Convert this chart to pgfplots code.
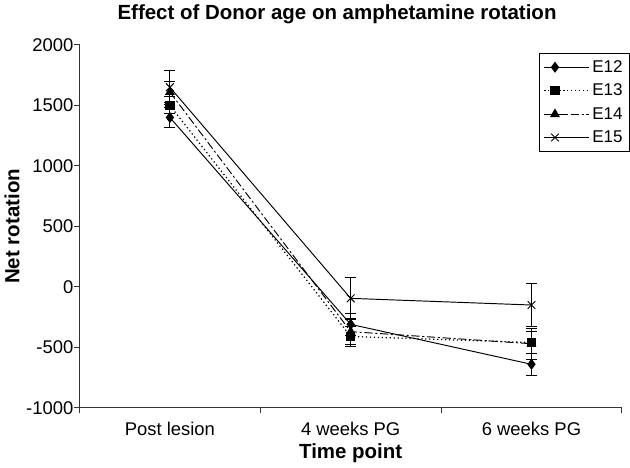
\documentclass[border=0pt]{standalone}
\usepackage{pgfplots}
\pgfplotsset{compat=1.18}
\usepackage{fontspec}
\setmainfont{Liberation Sans}
\begin{document}
\begin{tikzpicture}
\begin{axis}[
  scale only axis, width=397.5pt, height=266pt,
  xmin=-0.5, xmax=2.5, ymin=-1000, ymax=2000,
  ytick={-1000,-500,0,500,1000,1500,2000},
  xtick={0,1,2}, xticklabels={Post lesion,4 weeks PG,6 weeks PG},
  major x tick style={draw=none},
  minor xtick={-0.5,0.5,1.5,2.5},
  tick align=outside, tick pos=left,
  major tick length=4pt, minor tick length=4pt,
  axis lines*=left, axis line style={black!80, line width=0.8pt},
  every tick/.style={black!80, line width=0.8pt},
  /pgf/number format/assume math mode=true,
  /pgf/number format/.cd, set thousands separator={}, /pgfplots/.cd,
  tick label style={font=\fontsize{13.5}{15}\selectfont},
  yticklabel style={xshift=3pt},
  xticklabel style={yshift=-3pt},
  xlabel={\textbf{Time point}}, ylabel={\textbf{Net rotation}},
  label style={font=\fontsize{15}{17}\selectfont},
  xlabel style={yshift=1pt},
  ylabel style={yshift=-2pt},
  title={\textbf{Effect of Donor age on amphetamine rotation}},
  title style={font=\fontsize{15}{17}\selectfont, yshift=6pt, xshift=-10pt},
  legend style={at={(rel axis cs:1.015,0.978)}, anchor=north east, draw=black, line width=0.8pt,
    font=\fontsize{12.5}{14}\selectfont, row sep=3pt, inner sep=3pt},
  legend cell align=left,
  legend image code/.code={\draw[#1] (0cm,0cm) -- (0.55cm,0cm) plot coordinates {(0.275cm,0cm)} -- (1.15cm,0cm);},
  error bars/error bar style={solid, line width=0.7pt, black},
  error bars/error mark options={rotate=90, mark size=4pt, line width=0.7pt, black},
]
\addplot[black, line width=0.7pt, solid, mark=diamond*, mark size=3.5pt, mark options={solid, fill=black},
  error bars/.cd, y dir=both, y explicit]
  coordinates {(0,1400) +- (0,80) (1,-310) +- (0,90) (2,-640) +- (0,90)};
\addlegendentry{E12}
\addplot[black, dotted, line width=0.9pt, mark=square*, mark size=3pt, mark options={solid, fill=black},
  error bars/.cd, y dir=both, y explicit]
  coordinates {(0,1500) +- (0,70) (1,-410) +- (0,80) (2,-460) +- (0,90)};
\addlegendentry{E13}
\addplot[black, line width=0.7pt, dash pattern=on 6pt off 2pt on 1.5pt off 2pt, mark=triangle*, mark size=3.5pt, mark options={solid, fill=black},
  error bars/.cd, y dir=both, y explicit]
  coordinates {(0,1610) +- (0,90) (1,-370) +- (0,110) (2,-470) +- (0,130)};
\addlegendentry{E14}
\addplot[black, line width=0.7pt, solid, mark=x, mark size=4pt, mark options={solid},
  error bars/.cd, y dir=both, y explicit]
  coordinates {(0,1650) +- (0,140) (1,-95) +- (0,175) (2,-150) +- (0,175)};
\addlegendentry{E15}
\end{axis}
\end{tikzpicture}
\end{document}
